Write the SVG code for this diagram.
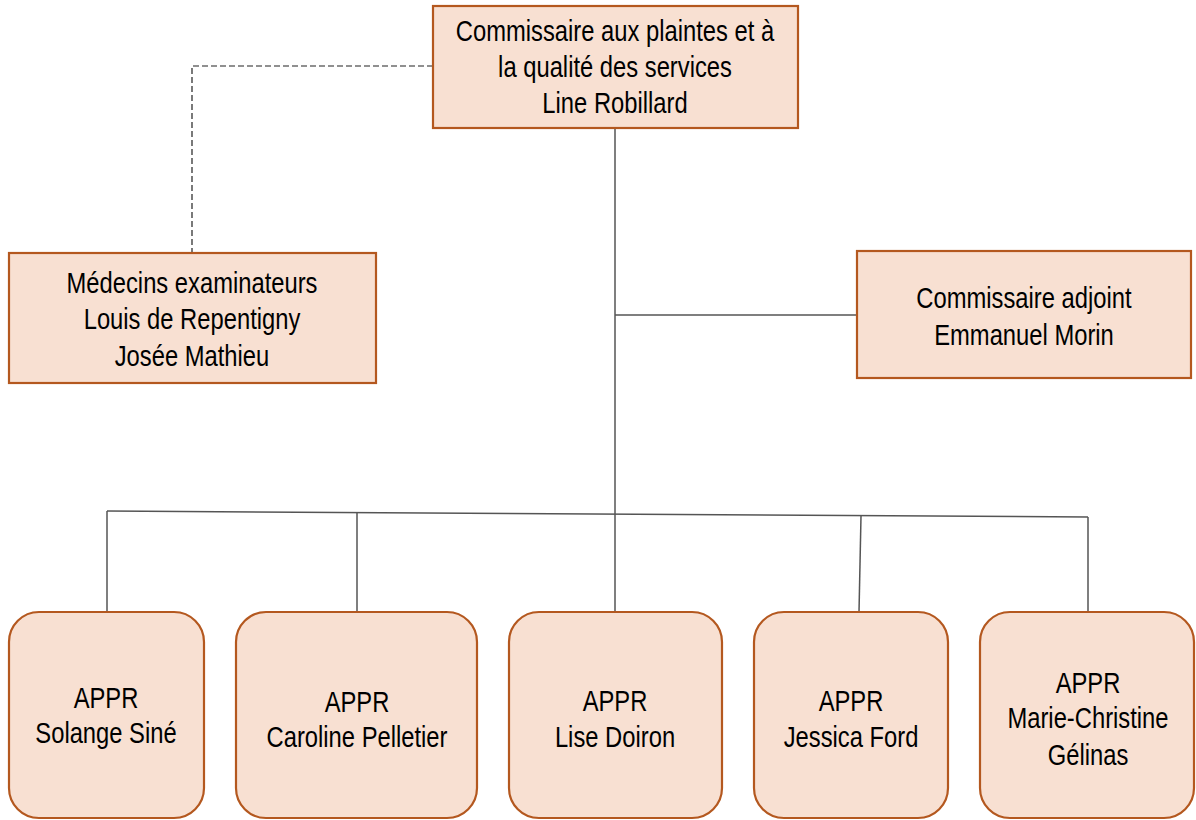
<svg xmlns="http://www.w3.org/2000/svg" width="1196" height="820" viewBox="0 0 1196 820">
<style>
.box{fill:#F8E0D2;stroke:#B4581F;stroke-width:2.2}
.t{font-family:"Liberation Sans",Arial,sans-serif;font-size:29px;fill:#000;text-anchor:middle}
.c{stroke:#555;stroke-width:1.5;fill:none}
.d{stroke:#222;stroke-width:1.2;fill:none;stroke-dasharray:6 3}
</style>
<rect width="1196" height="820" fill="#fff"/>
<g id="connectors">
<path class="d" d="M433 66 H192 V253"/>
<path class="c" d="M615 128 V612"/>
<path class="c" d="M615 315 H857"/>
<path class="c" d="M107 511 L1088 517"/>
<path class="c" d="M107 511 V612"/>
<path class="c" d="M357 512.5 V612"/>
<path class="c" d="M861 516 L859 612"/>
<path class="c" d="M1088 517 V612"/>
</g>
<g id="n-commissaire">
<rect class="box" x="433" y="6" width="365" height="122"/>
<text class="t" transform="translate(615 41) scale(0.82 1)">Commissaire aux plaintes et à</text>
<text class="t" transform="translate(615 77) scale(0.82 1)">la qualité des services</text>
<text class="t" transform="translate(615 113) scale(0.82 1)">Line Robillard</text>
</g>
<g id="n-medecins">
<rect class="box" x="9" y="253" width="367" height="130"/>
<text class="t" transform="translate(192 293) scale(0.82 1)">Médecins examinateurs</text>
<text class="t" transform="translate(192 329) scale(0.82 1)">Louis de Repentigny</text>
<text class="t" transform="translate(192 366) scale(0.82 1)">Josée Mathieu</text>
</g>
<g id="n-adjoint">
<rect class="box" x="857" y="251" width="334" height="127"/>
<text class="t" transform="translate(1024 308) scale(0.82 1)">Commissaire adjoint</text>
<text class="t" transform="translate(1024 345) scale(0.82 1)">Emmanuel Morin</text>
</g>
<g id="n-appr1">
<rect class="box" x="9" y="612" width="195" height="206" rx="30"/>
<text class="t" transform="translate(106 708) scale(0.82 1)">APPR</text>
<text class="t" transform="translate(106 743) scale(0.82 1)">Solange Siné</text>
</g>
<g id="n-appr2">
<rect class="box" x="236" y="612" width="241" height="206" rx="30"/>
<text class="t" transform="translate(357 712) scale(0.82 1)">APPR</text>
<text class="t" transform="translate(357 747) scale(0.82 1)">Caroline Pelletier</text>
</g>
<g id="n-appr3">
<rect class="box" x="509" y="612" width="213" height="206" rx="30"/>
<text class="t" transform="translate(615 711) scale(0.82 1)">APPR</text>
<text class="t" transform="translate(615 747) scale(0.82 1)">Lise Doiron</text>
</g>
<g id="n-appr4">
<rect class="box" x="754" y="612" width="194" height="206" rx="30"/>
<text class="t" transform="translate(851 711) scale(0.82 1)">APPR</text>
<text class="t" transform="translate(851 747) scale(0.82 1)">Jessica Ford</text>
</g>
<g id="n-appr5">
<rect class="box" x="980" y="612" width="214" height="206" rx="30"/>
<text class="t" transform="translate(1088 693) scale(0.82 1)">APPR</text>
<text class="t" transform="translate(1088 728) scale(0.82 1)">Marie-Christine</text>
<text class="t" transform="translate(1088 765) scale(0.82 1)">Gélinas</text>
</g>
</svg>
